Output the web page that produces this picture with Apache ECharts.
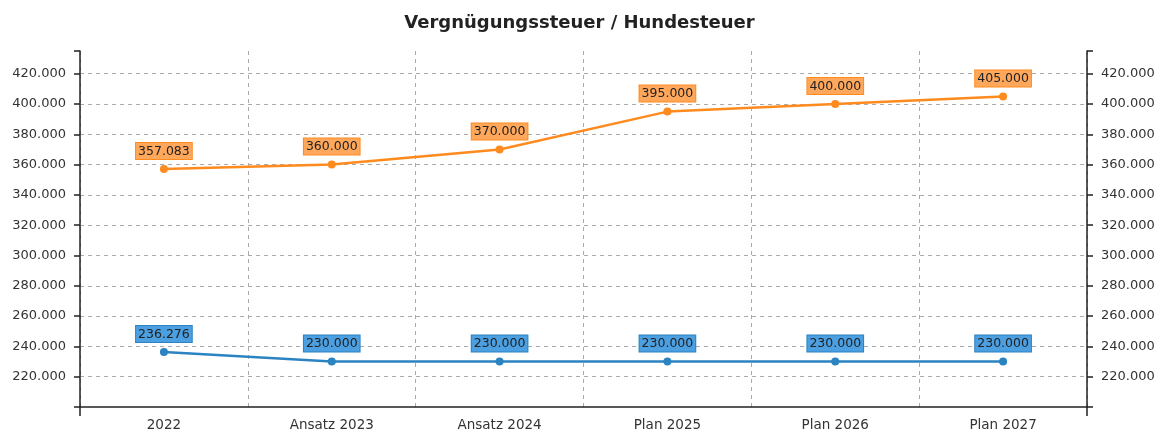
<!DOCTYPE html>
<html style="height: 100%">
<head>
<meta charset="utf-8">
</head>
<body style="height: 100%; margin: 0; background: #fff">
<div id="container" style="height: 100%"></div>
<script src="https://cdn.jsdelivr.net/npm/echarts@6/dist/echarts.min.js"></script>
<script type="text/javascript">

var categories = ['2022', 'Ansatz 2023', 'Ansatz 2024', 'Plan 2025', 'Plan 2026', 'Plan 2027'];
var vergnuegung = [357083, 360000, 370000, 395000, 400000, 405000];
var hunde = [236276, 230000, 230000, 230000, 230000, 230000];

var dom = document.getElementById('container');
var myChart = echarts.init(dom);

function fmt(v) {
    return String(v).replace(/\B(?=(\d{3})+(?!\d))/g, '.');
}

var font = 'DejaVu Sans';
// split lines: hide the ones at min and max
var splitColors = ['transparent'];
for (var i = 0; i < 11; i++) splitColors.push('#aaaaaa');
splitColors.push('transparent');

function yAxis(pos) {
    return {
        type: 'value',
        position: pos,
        min: 200000,
        max: 435000,
        interval: 20000,
        axisLine: { show: true, lineStyle: { color: '#222', width: 1.5 } },
        axisTick: { show: true, length: 6, lineStyle: { color: '#222', width: 1.5 } },
        axisLabel: {
            color: '#333', fontFamily: font, fontSize: 13, margin: 14,
            formatter: function (v) { return (v === 200000 || v === 435000) ? '' : fmt(v); }
        },
        splitLine: { show: pos === 'left', lineStyle: { color: splitColors, type: [4, 4], width: 1 } }
    };
}

function labelFor(bg, border) {
    return {
        show: true,
        position: 'top',
        distance: 6,
        color: '#222',
        fontFamily: font,
        fontSize: 12.5,
        backgroundColor: bg,
        borderColor: border,
        borderWidth: 1,
        padding: [2, 2, 1, 2],
        formatter: function (p) { return fmt(p.value); }
    };
}

var option = {
    animation: false,
    title: {
        text: 'Vergnügungssteuer / Hundesteuer',
        left: 'center',
        top: 9,
        textStyle: { fontFamily: font, fontSize: 18, fontWeight: 'bold', color: '#222' }
    },
    grid: { left: 80, right: 72, top: 51, bottom: 24 },
    xAxis: [{
        type: 'category',
        data: categories,
        boundaryGap: true,
        axisLine: { lineStyle: { color: '#222', width: 1.5 } },
        axisTick: { alignWithLabel: true, length: 7, lineStyle: { color: '#222', width: 1.5 } },
        axisLabel: { color: '#333', fontFamily: font, fontSize: 13.5, margin: 11 },
        splitLine: { show: true, lineStyle: { color: '#aaaaaa', type: [4, 4], width: 1 } }
    }, {
        // end ticks below the axis corners
        type: 'value',
        position: 'bottom',
        min: 0,
        max: 1,
        interval: 1,
        axisLine: { show: false },
        axisTick: { show: true, length: 9, lineStyle: { color: '#222', width: 1.5 } },
        axisLabel: { show: false },
        splitLine: { show: false }
    }],
    yAxis: [yAxis('left'), yAxis('right')],
    series: [{
        name: 'Vergnügungssteuer',
        type: 'line',
        data: vergnuegung,
        symbol: 'circle',
        symbolSize: 8,
        itemStyle: { color: '#ff8a1e' },
        lineStyle: { width: 2.5, color: '#ff8a1e' },
        label: labelFor('#ffa85c', '#ff8a1e')
    }, {
        name: 'Hundesteuer',
        type: 'line',
        data: hunde,
        symbol: 'circle',
        symbolSize: 8,
        itemStyle: { color: '#2b83c1' },
        lineStyle: { width: 2.5, color: '#2b83c1' },
        label: labelFor('#4c9fe0', '#2b83c1')
    }]
};

myChart.setOption(option);
</script>
</body>
</html>
